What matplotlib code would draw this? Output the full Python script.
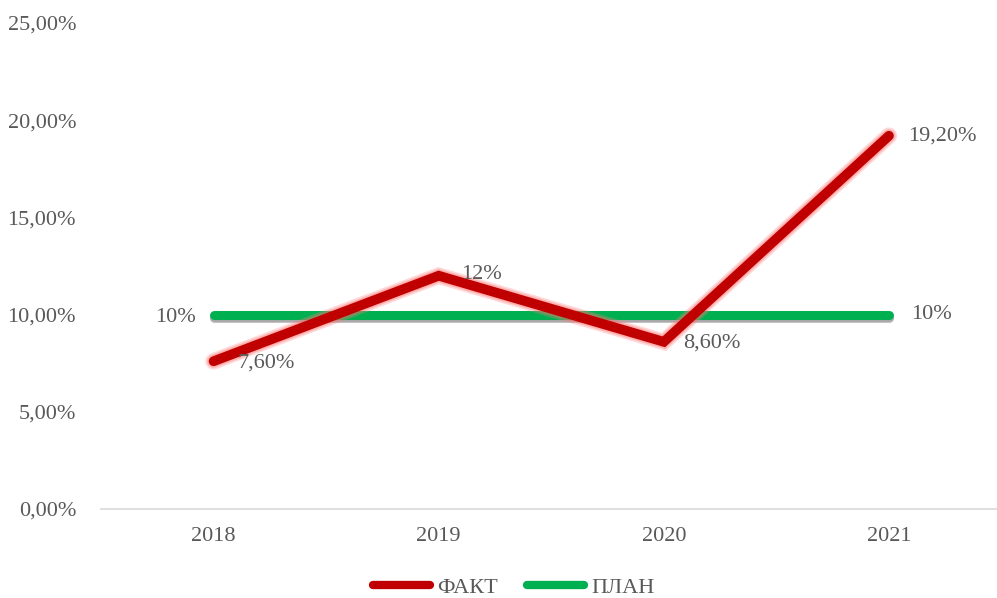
import matplotlib
matplotlib.use("Agg")
import matplotlib.pyplot as plt
import matplotlib.patheffects as pe
from matplotlib.lines import Line2D
from matplotlib.ticker import FuncFormatter

# данные
years = ["2018", "2019", "2020", "2021"]
fact = [7.6, 12.0, 8.6, 19.2]
plan = [10.0, 10.0, 10.0, 10.0]
fact_labels = ["7,60%", "12%", "8,60%", "19,20%"]
plan_labels = ["10%", "10%"]

plt.rcParams['font.family'] = ['Liberation Serif', 'DejaVu Serif']
grey = "#595959"
red = "#C00000"
green = "#00B050"

fig = plt.figure(figsize=(9.97, 5.98), dpi=100)
ax = fig.add_axes([101 / 997, 89 / 598, 896 / 997, 486 / 598])

x = list(range(len(years)))

# ПЛАН с серой тенью
ax.plot(x, plan, color=green, lw=6.5, solid_capstyle="round", zorder=3,
        path_effects=[pe.SimpleLineShadow(offset=(0, -2.5), shadow_color="#7f7f7f", alpha=0.45),
                      pe.SimpleLineShadow(offset=(0, -1.5), shadow_color="#7f7f7f", alpha=0.4),
                      pe.Normal()])

# ФАКТ со свечением
ax.plot(x, fact, color=red, lw=7, solid_capstyle="round", solid_joinstyle="miter", zorder=4,
        path_effects=[pe.Stroke(linewidth=12, foreground="#ff8080", alpha=0.3),
                      pe.Stroke(linewidth=9.5, foreground="#ff6666", alpha=0.35),
                      pe.Normal()])

# подписи
fs = 16
ax.annotate(fact_labels[0], (0, fact[0]), xytext=(17, -1), textcoords="offset points",
            ha="left", va="center", fontsize=fs, color=grey, zorder=5)
ax.annotate(fact_labels[1], (1, fact[1]), xytext=(16, 1), textcoords="offset points",
            ha="left", va="center", fontsize=fs, color=grey, zorder=5)
ax.annotate(fact_labels[2], (2, fact[2]), xytext=(14, -1), textcoords="offset points",
            ha="left", va="center", fontsize=fs, color=grey, zorder=5)
ax.annotate(fact_labels[3], (3, fact[3]), xytext=(14, 0), textcoords="offset points",
            ha="left", va="center", fontsize=fs, color=grey, zorder=5)
ax.annotate(plan_labels[0], (0, plan[0]), xytext=(-13, -2), textcoords="offset points",
            ha="right", va="center", fontsize=fs, color=grey, zorder=5)
ax.annotate(plan_labels[1], (3, plan[3]), xytext=(16, 0), textcoords="offset points",
            ha="left", va="center", fontsize=fs, color=grey, zorder=5)

ax.set_xlim(-0.5, 3.48)
ax.set_ylim(0, 25)
ax.set_xticks(x)
ax.set_xticklabels(years)
ax.set_yticks([0, 5, 10, 15, 20, 25])
ax.yaxis.set_major_formatter(FuncFormatter(lambda v, p: f"{v:.2f}%".replace(".", ",")))
ax.tick_params(length=0, labelsize=16, colors=grey)
ax.tick_params(axis="x", pad=13)
ax.tick_params(axis="y", pad=18)

for s in ["top", "right", "left"]:
    ax.spines[s].set_visible(False)
ax.spines["bottom"].set_color("#d9d9d9")
ax.spines["bottom"].set_linewidth(1.2)

handles = [Line2D([], [], color=red, lw=6, solid_capstyle="round"),
           Line2D([], [], color=green, lw=6, solid_capstyle="round")]
fig.legend(handles, ["ФАКТ", "ПЛАН"], loc="center", bbox_to_anchor=(0.515, 0.018),
           ncol=2, frameon=False, fontsize=16, handlelength=2.6, handletextpad=0.3,
           columnspacing=1.3, labelcolor=grey)

fig.savefig("out.png", dpi=100)
